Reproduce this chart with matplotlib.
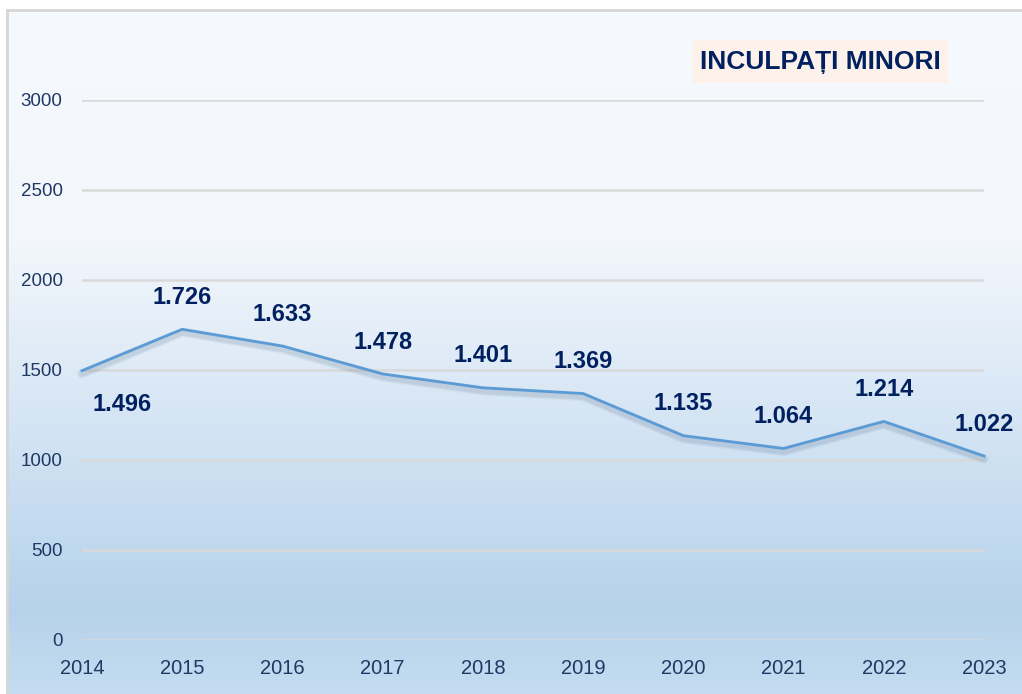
import numpy as np
import matplotlib
matplotlib.use("Agg")
import matplotlib.pyplot as plt
from matplotlib.lines import Line2D
from matplotlib.patches import Rectangle

years = [2014, 2015, 2016, 2017, 2018, 2019, 2020, 2021, 2022, 2023]
values = [1496, 1726, 1633, 1478, 1401, 1369, 1135, 1064, 1214, 1022]
labels = ["1.496", "1.726", "1.633", "1.478", "1.401", "1.369", "1.135", "1.064", "1.214", "1.022"]
yticks = [0, 500, 1000, 1500, 2000, 2500, 3000]
title = "INCULPAȚI MINORI"

W, H = 1022, 694
fig = plt.figure(figsize=(W / 100, H / 100), dpi=100)
fig.patch.set_facecolor("white")

# gradient background
bg = fig.add_axes([7 / W, 0, 1 - 7 / W, (H - 10) / H], zorder=-10)
ys = np.linspace(10, 694, 400)
stops_y = [10, 240, 450, 610, 694]
stops_c = np.array([(246, 249, 253), (243, 247, 252), (208, 226, 243), (182, 210, 235), (197, 220, 240)]) / 255
grad = np.stack([np.interp(ys, stops_y, stops_c[:, i]) for i in range(3)], axis=-1)
grad = grad[:, None, :]
bg.imshow(grad, aspect="auto", extent=[0, 1, 0, 1], origin="upper")
bg.axis("off")

# border lines
fig.add_artist(Line2D([7 / W, 1], [(H - 10) / H, (H - 10) / H], color="#D6D6D6", lw=2))
fig.add_artist(Line2D([7 / W, 7 / W], [0, (H - 10) / H], color="#D6D6D6", lw=2))

ax = fig.add_axes([82 / W, (H - 640) / H, (984 - 82) / W, (640 - 100) / H])
ax.set_facecolor("none")
ax.set_xlim(2014, 2023)
ax.set_ylim(0, 3000)
ax.set_yticks(yticks)
ax.set_xticks(years)
for s in ax.spines.values():
    s.set_visible(False)
ax.grid(axis="y", color="#D9D9D9", lw=1.8)
ax.set_axisbelow(True)
ax.tick_params(length=0)
for t in ax.get_yticklabels():
    t.set_fontfamily("Liberation Sans")
    t.set_fontsize(13.5)
    t.set_color("#1F3864")
for t in ax.get_xticklabels():
    t.set_fontfamily("Liberation Sans")
    t.set_fontsize(14.5)
    t.set_color("#1F3864")
ax.tick_params(axis="y", pad=14)
ax.tick_params(axis="x", pad=14)

# line with soft shadow
shift = matplotlib.transforms.ScaledTranslation(0, -3 / 100, fig.dpi_scale_trans)
for k, a in [(5, 0.05), (4, 0.06), (3, 0.07), (2, 0.08)]:
    ax.plot(years, values, color="#6A7F99", lw=2 + k, alpha=a, solid_capstyle="round",
            transform=ax.transData + shift, clip_on=False)
ax.plot(years, values, color="#5B9BD5", lw=2, clip_on=False, zorder=3)

for i, (x, v, lab) in enumerate(zip(years, values, labels)):
    off = (29, -24) if i == 0 else (0, 23)
    ax.annotate(lab, (x, v), xytext=off, textcoords="offset points", ha="center", va="center",
                fontsize=17, fontweight="bold", color="#002060", family="Liberation Sans",
                annotation_clip=False)

# title box
fig.add_artist(Rectangle((692 / W, (H - 83) / H), (948 - 692) / W, 43 / H, transform=fig.transFigure,
                         facecolor="#FDF2EB", edgecolor="none"))
fig.text(820 / W, (H - 62) / H, title, ha="center", va="center", fontsize=19, fontweight="bold",
         color="#002060", family="Liberation Sans")

fig.savefig("out.png", dpi=100)
